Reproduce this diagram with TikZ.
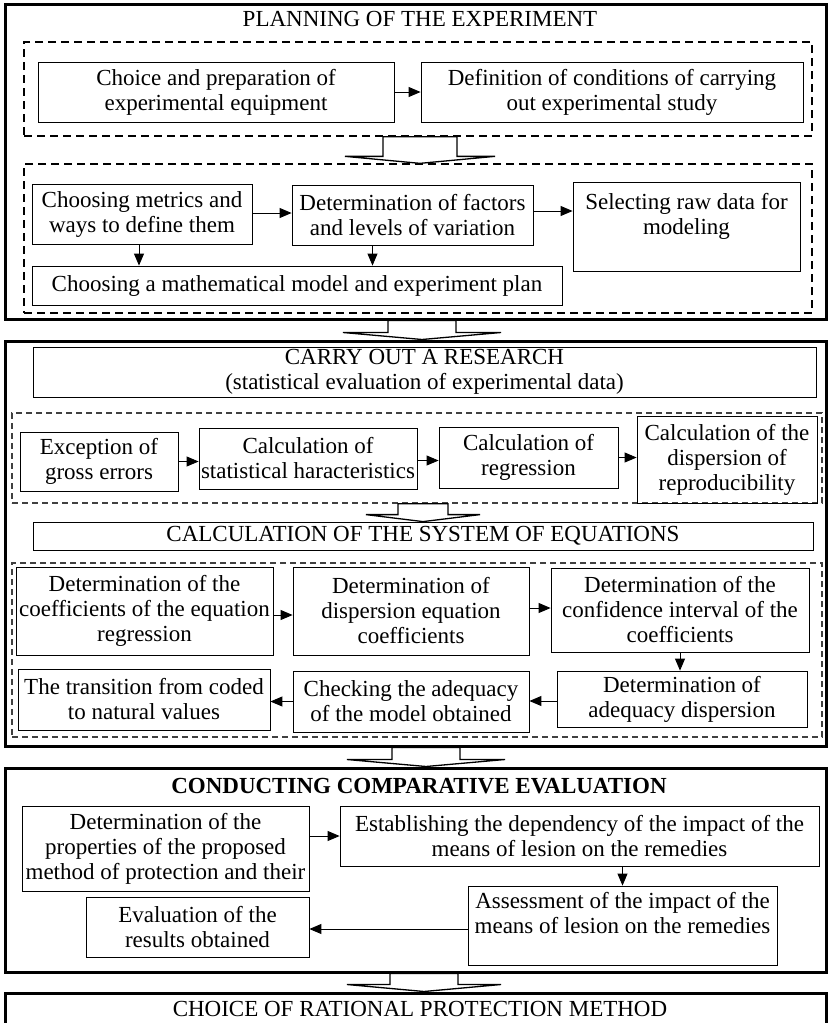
\documentclass[tikz,border=0pt]{standalone}
\usepackage{fontspec}
\setmainfont{Liberation Serif}
\usetikzlibrary{arrows.meta,calc}
\newcommand{\blockarrow}[5]{% x, from, to, stem half width, head half width
  \draw[bigarrow] let \p1=(#2.south), \p2=(#3.north) in
    (#1-#4,\y1) -- (#1-#4,\y2+7) -- (#1-#5,\y2+7) -- (#1,\y2) -- (#1+#5,\y2+7) -- (#1+#4,\y2+7) -- (#1+#4,\y1) -- cycle;}

\begin{document}
\begin{tikzpicture}[x=1pt,y=-1pt,font=\fontsize{23}{25}\selectfont,
  task/.style={draw,line width=0.8pt,align=center,inner sep=1pt},
  group/.style={draw,dash pattern=on 8pt off 5pt,line width=1.3pt,inner sep=0pt},
  subgroup/.style={draw=black!75,dash pattern=on 6pt off 4pt,line width=1.3pt,inner sep=0pt},
  stage/.style={draw,line width=3pt,minimum width=821pt,inner sep=0pt},
  arr/.style={-{Triangle[length=12pt,width=10pt]},line width=0.9pt},
  bigarrow/.style={fill=white,line width=1.3pt,line join=miter}]
\useasboundingbox (0,0) rectangle (828,1023);

% planning of the experiment
\node[stage,minimum height=315pt] (plan) at (415.5,161.5) {};
\node (plantitle) at (420,19) {PLANNING OF THE EXPERIMENT};
\node[group,minimum width=788pt,minimum height=94pt] (g1) at (418,89) {};
\node[task,minimum width=356pt,minimum height=60pt] (equip) at (216,92) {Choice and preparation of\\experimental equipment};
\node[task,minimum width=382pt,minimum height=60pt] (cond) at (612,92) {Definition of conditions of carrying\\out experimental study};
\node[group,minimum width=788pt,minimum height=149pt] (g2) at (418,238.5) {};
\node[task,minimum width=220pt,minimum height=60pt] (metrics) at (142,214) {Choosing metrics and\\ways to define them};
\node[task,minimum width=241pt,minimum height=60pt] (factors) at (412.5,215) {Determination of factors\\and levels of variation};
\node[task,minimum width=227pt,minimum height=89pt] (rawdata) at (686.5,226.5) {Selecting raw data for\\modeling\\\mbox{}};
\node[task,minimum width=530pt,minimum height=39pt] (model) at (297,285.5) {Choosing a mathematical model and experiment plan};
\draw[arr] (equip) -- (cond);
\draw[arr] ([yshift=1pt]metrics.east) -- ([yshift=1pt]metrics.east -| factors.west);
\draw[arr] ([yshift=4pt]factors.east) -- ([yshift=4pt]factors.east -| rawdata.west);
\draw[arr] ([xshift=-3pt]metrics.south) -- ([xshift=-3pt]metrics.south |- model.north);
\draw[arr] ([xshift=-40pt]factors.south) -- ([xshift=-40pt]factors.south |- model.north);
\blockarrow{420}{g1}{g2}{37}{75}

% carry out a research
\node[stage,minimum height=405pt] (carry) at (415.5,543.5) {};
\blockarrow{422}{plan}{carry}{34}{79}
\node[task,minimum width=783pt,minimum height=50pt] (research) at (424.5,372) {CARRY OUT A RESEARCH\\(statistical evaluation of experimental data)};
\node[subgroup,minimum width=810pt,minimum height=90pt] (g3) at (417,458) {};
\node[task,minimum width=158pt,minimum height=59pt] (errors) at (99,461.5) {Exception of\\gross errors};
\node[task,minimum width=218pt,minimum height=61pt] (stats) at (308,458.5) {Calculation of\\statistical haracteristics};
\node[task,minimum width=179pt,minimum height=61pt] (regr) at (528.5,457.5) {Calculation of\\regression};
\node[task,minimum width=180pt,minimum height=87pt] (reprod) at (727,459.5) {Calculation of the\\dispersion of\\reproducibility};
\draw[arr] (errors.east) -- (errors.east -| stats.west);
\draw[arr] ([yshift=-2pt]stats.east) -- ([yshift=-2pt]stats.east -| regr.west);
\draw[arr] (regr.east) -- (regr.east -| reprod.west);
\node[task,minimum width=780pt,minimum height=28pt] (system) at (423,536) {CALCULATION OF THE SYSTEM OF EQUATIONS};
\blockarrow{423}{g3}{system}{25}{57}
\node[subgroup,minimum width=810pt,minimum height=174pt] (g4) at (417,650) {};
\node[task,minimum width=257pt,minimum height=88pt] (coef) at (144.5,611) {Determination of the\\coefficients of the equation\\regression};
\node[task,minimum width=236pt,minimum height=88pt] (disp) at (411,611) {Determination of\\dispersion equation\\coefficients};
\node[task,minimum width=258pt,minimum height=84pt] (conf) at (680,610) {Determination of the\\confidence interval of the\\coefficients};
\node[task,minimum width=250pt,minimum height=56pt] (adeq) at (682,699) {Determination of\\adequacy dispersion};
\node[task,minimum width=236pt,minimum height=61pt] (check) at (411,701.5) {Checking the adequacy\\of the model obtained};
\node[task,minimum width=252pt,minimum height=61pt] (trans) at (144,699.5) {The transition from coded\\to natural values};
\draw[arr] ([yshift=-4pt]coef.east) -- ([yshift=-4pt]coef.east -| disp.west);
\draw[arr] ([yshift=3pt]disp.east) -- ([yshift=3pt]disp.east -| conf.west);
\draw[arr] (conf.south) -- (conf.south |- adeq.north);
\draw[arr] ([yshift=-2pt]adeq.west) -- ([yshift=-2pt]adeq.west -| check.east);
\draw[arr] (check.west) -- (check.west -| trans.east);

% comparative evaluation
\node[stage,minimum height=204pt] (compare) at (415.5,870) {};
\blockarrow{426}{carry}{compare}{34}{79}
\node (comptitle) at (419,786) {\textbf{CONDUCTING COMPARATIVE EVALUATION}};
\node[task,minimum width=287pt,minimum height=85pt] (props) at (165.5,848.5) {Determination of the\\properties of the proposed\\method of protection and their};
\node[task,minimum width=479pt,minimum height=60pt] (depend) at (579.5,836) {Establishing the dependency of the impact of the\\means of lesion on the remedies};
\node[task,minimum width=309pt,minimum height=79pt] (assess) at (622.5,925.5) {Assessment of the impact of the\\means of lesion on the remedies\\\mbox{}};
\node[task,minimum width=223pt,minimum height=60pt] (results) at (197.5,927) {Evaluation of the\\results obtained};
\draw[arr] (props.east |- depend.west) -- (depend.west);
\draw[arr] (assess.north |- depend.south) -- (assess.north);
\draw[arr] ([yshift=-2pt]assess.west |- results.east) -- ([yshift=-2pt]results.east);

% choice of method
\node[stage,minimum height=57pt] (choice) at (415.5,1021.5) {};
\blockarrow{424}{compare}{choice}{34}{77}
\node (choicetitle) at (420,1009) {CHOICE OF RATIONAL PROTECTION METHOD};
\end{tikzpicture}
\end{document}
